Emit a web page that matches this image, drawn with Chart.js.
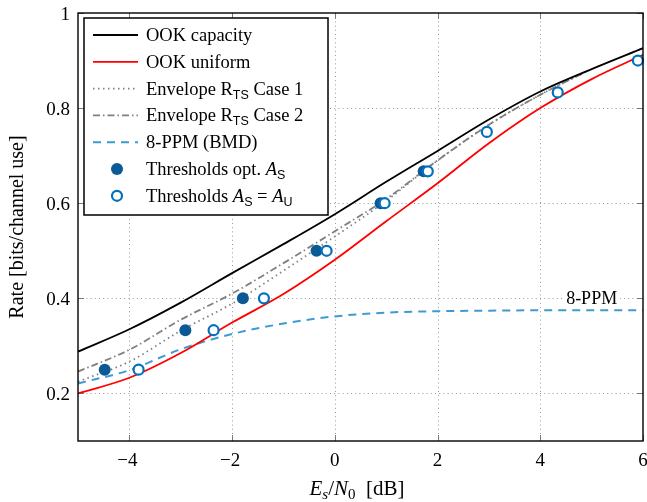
<!DOCTYPE html>
<html>
<head>
<meta charset="utf-8">
<script src="https://cdn.jsdelivr.net/npm/chart.js@4"></script>
<style>
html,body{margin:0;padding:0;background:#fff;}
canvas{display:block;}
</style>
</head>
<body>
<canvas id="c" width="647" height="502"></canvas>
<script>
// ---- data ----
const xTicks = [-4, -2, 0, 2, 4, 6];
const yTicks = [0.2, 0.4, 0.6, 0.8, 1];

const xCurve = [-5, -4, -3, -2, -1, 0, 1, 2, 3, 4, 5, 6];
const yOOKCapacity = [0.288, 0.335, 0.391, 0.453, 0.514, 0.577, 0.645, 0.710, 0.776, 0.835, 0.882, 0.926];
const yOOKUniform  = [0.200, 0.233, 0.285, 0.349, 0.409, 0.481, 0.562, 0.642, 0.726, 0.800, 0.861, 0.912];
const yPPM8        = [0.221, 0.249, 0.293, 0.325, 0.347, 0.362, 0.370, 0.373, 0.374, 0.375, 0.375, 0.375];

const xEnvelope = [-5, -4, -3, -2, -1, 0, 1, 2, 3, 4, 4.9];
const yEnvCase1 = [0.225, 0.267, 0.332, 0.389, 0.458, 0.530, 0.605, 0.690, 0.765, 0.828, 0.877];
const yEnvCase2 = [0.246, 0.292, 0.355, 0.410, 0.474, 0.541, 0.609, 0.690, 0.765, 0.828, 0.877];

const xThrOpt = [-4.48, -2.91, -1.79, -0.355, 0.89, 1.73];
const yThrOpt = [0.25, 0.333, 0.4, 0.5, 0.6, 0.667];

const xThrU = [-3.82, -2.36, -1.38, -0.16, 0.97, 1.81, 2.96, 4.34, 5.90];
const yThrU = [0.25, 0.333, 0.4, 0.5, 0.6, 0.667, 0.75, 0.833, 0.9];

const ppmLabel = {x: 5.0, y: 0.4, text: '8-PPM'};

// ---- styles ----
const C_BLACK = '#000000';
const C_RED = '#ff0000';
const C_GRAY = '#808080';
const C_PPM = '#3d9bd3';
const C_FILLED = '#0a5a96';
const C_HOLLOW = '#0072bd';
const SERIF = '"Liberation Serif", "DejaVu Serif", serif';
const SANS = '"Liberation Sans", "DejaVu Sans", sans-serif';

const pts = (xs, ys) => xs.map((x, i) => ({x: x, y: ys[i]}));

function drawParts(ctx, parts, x, y, align) {
  let w = 0;
  parts.forEach(p => { ctx.font = p.f; p.w = ctx.measureText(p.t).width; w += p.w; });
  let cx = align === 'center' ? x - w / 2 : x;
  ctx.textAlign = 'left';
  ctx.textBaseline = 'alphabetic';
  parts.forEach(p => { ctx.font = p.f; ctx.fillText(p.t, cx, y + (p.dy || 0)); cx += p.w; });
}

const LF = '18.5px ' + SERIF;
const LFI = 'italic 18.5px ' + SERIF;
const LSUB = '12.5px ' + SANS;
const t = s => ({t: s, f: LF});
const ti = s => ({t: s, f: LFI});
const sub = s => ({t: s, f: LSUB, dy: 4});

const legendItems = [
  {kind: 'line', color: C_BLACK, dash: [], width: 1.8, parts: [t('OOK capacity')]},
  {kind: 'line', color: C_RED, dash: [], width: 1.8, parts: [t('OOK uniform')]},
  {kind: 'line', color: C_GRAY, dash: [1.5, 3.5], width: 1.8, parts: [t('Envelope R'), sub('TS'), t(' Case 1')]},
  {kind: 'line', color: C_GRAY, dash: [7, 3, 1.5, 3], width: 1.8, parts: [t('Envelope R'), sub('TS'), t(' Case 2')]},
  {kind: 'line', color: C_PPM, dash: [8, 6], width: 2, parts: [t('8-PPM (BMD)')]},
  {kind: 'filled', parts: [t('Thresholds opt. '), ti('A'), sub('S')]},
  {kind: 'hollow', parts: [t('Thresholds '), ti('A'), sub('S'), t(' = '), ti('A'), sub('U')]}
];

const fmtX = v => (v < 0 ? '\u2212' : '') + String(Math.abs(v));
const fmtY = v => (v === 1 ? '1' : v.toFixed(1));
const TICKF = '19px ' + SERIF;

const frameGridPlugin = {
  id: 'frameGrid',
  beforeDatasetsDraw(chart) {
    const ctx = chart.ctx;
    const {left, right, top, bottom} = chart.chartArea;
    const xs = chart.scales.x, ys = chart.scales.y;
    ctx.save();
    // dotted grid
    ctx.strokeStyle = '#9a9a9a';
    ctx.lineWidth = 1;
    ctx.setLineDash([1, 3.2]);
    xTicks.forEach(v => {
      const px = Math.round(xs.getPixelForValue(v)) + 0.5;
      if (px < right - 1) { ctx.beginPath(); ctx.moveTo(px, top); ctx.lineTo(px, bottom); ctx.stroke(); }
    });
    yTicks.forEach(v => {
      const py = Math.round(ys.getPixelForValue(v)) + 0.5;
      if (py > top + 1) { ctx.beginPath(); ctx.moveTo(left, py); ctx.lineTo(right, py); ctx.stroke(); }
    });
    // inner tick marks
    ctx.setLineDash([]);
    ctx.strokeStyle = '#7a7a7a';
    xTicks.forEach(v => {
      const px = Math.round(xs.getPixelForValue(v)) + 0.5;
      ctx.beginPath(); ctx.moveTo(px, bottom); ctx.lineTo(px, bottom - 6); ctx.stroke();
      ctx.beginPath(); ctx.moveTo(px, top); ctx.lineTo(px, top + 6); ctx.stroke();
    });
    yTicks.forEach(v => {
      const py = Math.round(ys.getPixelForValue(v)) + 0.5;
      ctx.beginPath(); ctx.moveTo(left, py); ctx.lineTo(left + 6, py); ctx.stroke();
      ctx.beginPath(); ctx.moveTo(right, py); ctx.lineTo(right - 6, py); ctx.stroke();
    });
    // 8-PPM label
    ctx.font = '18px ' + SERIF;
    const lx = xs.getPixelForValue(ppmLabel.x), ly = ys.getPixelForValue(ppmLabel.y);
    const w = ctx.measureText(ppmLabel.text).width;
    ctx.fillStyle = '#fff';
    ctx.fillRect(lx - w / 2 - 3, ly - 9, w + 6, 15);
    ctx.fillStyle = '#000';
    ctx.textAlign = 'center';
    ctx.textBaseline = 'alphabetic';
    ctx.fillText(ppmLabel.text, lx, ly + 6);
    ctx.restore();
  },
  afterDatasetsDraw(chart) {
    const ctx = chart.ctx;
    const {left, right, top, bottom} = chart.chartArea;
    const xs = chart.scales.x, ys = chart.scales.y;
    ctx.save();
    // frame
    ctx.strokeStyle = '#000';
    ctx.lineWidth = 1.4;
    ctx.setLineDash([]);
    ctx.strokeRect(left, top, right - left, bottom - top);
    // tick labels
    ctx.fillStyle = '#000';
    ctx.font = TICKF;
    ctx.textBaseline = 'alphabetic';
    ctx.textAlign = 'center';
    xTicks.forEach(v => {
      const px = xs.getPixelForValue(v);
      const s = fmtX(v);
      // center on the digit part, minus sign hangs left like TeX
      ctx.fillText(s, px - (v < 0 ? 2 : 0), 466);
    });
    ctx.textAlign = 'right';
    yTicks.forEach(v => {
      const py = ys.getPixelForValue(v);
      ctx.fillText(fmtY(v), 70, py + 7);
    });
    // legend
    const bx = 84, by = 18, bw = 244, bh = 197;
    ctx.fillStyle = '#fff';
    ctx.fillRect(bx, by, bw, bh);
    ctx.lineWidth = 1.5;
    ctx.strokeStyle = '#000';
    ctx.strokeRect(bx, by, bw, bh);
    const rowY0 = 35, rowH = 26.8;
    legendItems.forEach((it, i) => {
      const cy = rowY0 + i * rowH;
      if (it.kind === 'line') {
        ctx.strokeStyle = it.color;
        ctx.lineWidth = it.width;
        ctx.setLineDash(it.dash);
        ctx.beginPath(); ctx.moveTo(93, cy); ctx.lineTo(138, cy); ctx.stroke();
        ctx.setLineDash([]);
      } else if (it.kind === 'filled') {
        ctx.fillStyle = C_FILLED;
        ctx.beginPath(); ctx.arc(117, cy, 6, 0, Math.PI * 2); ctx.fill();
      } else {
        ctx.fillStyle = '#fff';
        ctx.strokeStyle = C_HOLLOW;
        ctx.lineWidth = 2.2;
        ctx.beginPath(); ctx.arc(117, cy, 5, 0, Math.PI * 2); ctx.fill(); ctx.stroke();
      }
      ctx.fillStyle = '#000';
      drawParts(ctx, it.parts, 146, cy + 6, 'left');
    });
    // axis titles
    ctx.fillStyle = '#000';
    const TF = '21px ' + SERIF, TFI = 'italic 21px ' + SERIF, TSI = 'italic 15px ' + SERIF, TS = '15px ' + SERIF;
    drawParts(ctx, [
      {t: 'E', f: TFI}, {t: 's', f: TSI, dy: 4}, {t: '/', f: TF},
      {t: 'N', f: TFI}, {t: '0', f: TS, dy: 4}, {t: '  [dB]', f: TF}
    ], 357, 495, 'center');
    ctx.save();
    ctx.translate(18, 227);
    ctx.rotate(-Math.PI / 2);
    ctx.font = '20px ' + SERIF;
    ctx.textAlign = 'center';
    ctx.textBaseline = 'middle';
    ctx.fillText('Rate [bits/channel use]', 0, 0);
    ctx.restore();
    ctx.restore();
  }
};

new Chart(document.getElementById('c'), {
  type: 'scatter',
  data: {
    datasets: [
      {label: 'Thresholds A_S = A_U', data: pts(xThrU, yThrU), showLine: false,
       pointRadius: 5, pointHoverRadius: 5, pointBackgroundColor: '#fff', pointBorderColor: C_HOLLOW, pointBorderWidth: 2.2, order: 0, clip: false},
      {label: 'Thresholds opt. A_S', data: pts(xThrOpt, yThrOpt), showLine: false,
       pointRadius: 6, pointHoverRadius: 6, pointBackgroundColor: C_FILLED, pointBorderColor: C_FILLED, pointBorderWidth: 0, order: 1, clip: false},
      {label: 'OOK capacity', data: pts(xCurve, yOOKCapacity), showLine: true, pointRadius: 0,
       borderColor: C_BLACK, borderWidth: 1.8, cubicInterpolationMode: 'monotone', order: 2},
      {label: 'OOK uniform', data: pts(xCurve, yOOKUniform), showLine: true, pointRadius: 0,
       borderColor: C_RED, borderWidth: 1.8, cubicInterpolationMode: 'monotone', order: 3},
      {label: 'Envelope Case 1', data: pts(xEnvelope, yEnvCase1), showLine: true, pointRadius: 0,
       borderColor: C_GRAY, borderWidth: 1.8, borderDash: [1.5, 3.5], cubicInterpolationMode: 'monotone', order: 4},
      {label: 'Envelope Case 2', data: pts(xEnvelope, yEnvCase2), showLine: true, pointRadius: 0,
       borderColor: C_GRAY, borderWidth: 1.8, borderDash: [7, 3, 1.5, 3], cubicInterpolationMode: 'monotone', order: 5},
      {label: '8-PPM (BMD)', data: pts(xCurve, yPPM8), showLine: true, pointRadius: 0,
       borderColor: C_PPM, borderWidth: 2, borderDash: [8, 6], cubicInterpolationMode: 'monotone', order: 6}
    ]
  },
  options: {
    responsive: false,
    animation: false,
    devicePixelRatio: 1,
    events: [],
    layout: {autoPadding: false, padding: {left: 0, right: 4, top: 13, bottom: 0}},
    plugins: {legend: {display: false}, tooltip: {enabled: false}},
    scales: {
      x: {
        type: 'linear', min: -5, max: 6,
        afterFit: s => { s.height = 61; },
        afterBuildTicks: s => { s.ticks = xTicks.map(v => ({value: v})); },
        grid: {display: false},
        border: {display: false},
        ticks: {display: false}
      },
      y: {
        type: 'linear', min: 0.1, max: 1,
        afterFit: s => { s.width = 78; },
        afterBuildTicks: s => { s.ticks = yTicks.map(v => ({value: v})); },
        grid: {display: false},
        border: {display: false},
        ticks: {display: false}
      }
    }
  },
  plugins: [frameGridPlugin]
});
</script>
</body>
</html>
